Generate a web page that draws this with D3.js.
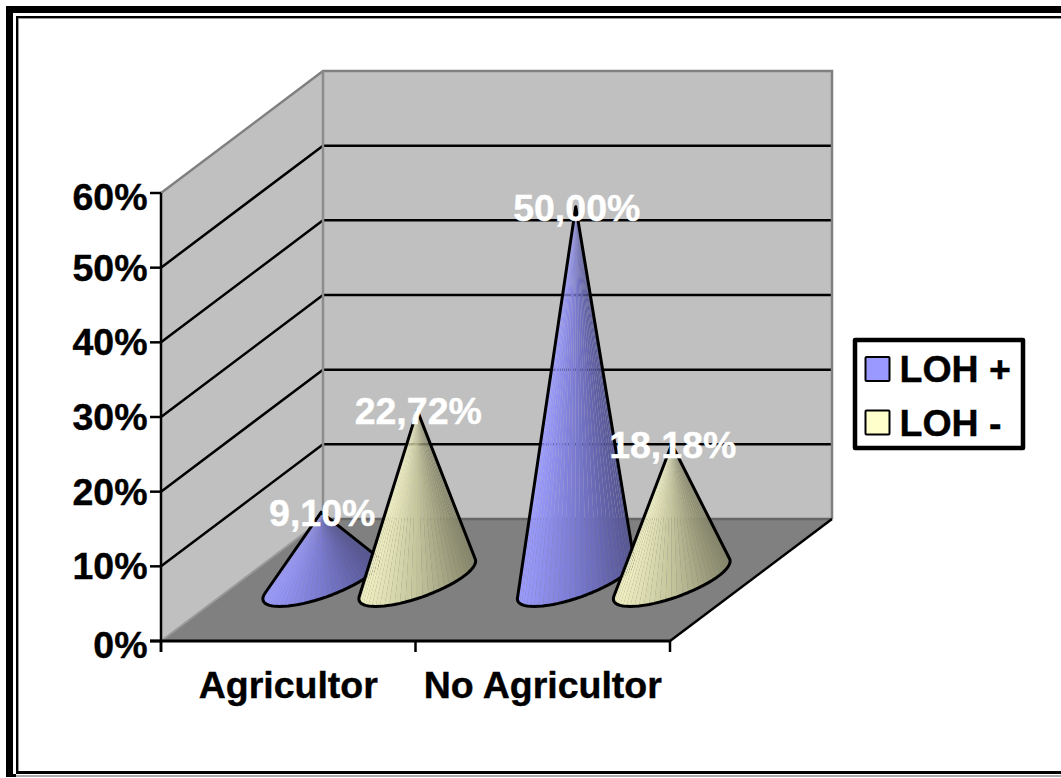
<!DOCTYPE html>
<html>
<head>
<meta charset="utf-8">
<script src="https://cdnjs.cloudflare.com/ajax/libs/d3/7.8.5/d3.min.js"></script>
<style>
  html, body { margin: 0; padding: 0; background: #fff; overflow: hidden; }
  svg { display: block; }
  text { font-family: "Liberation Sans", Arial, sans-serif; font-weight: bold; font-size: 37.5px;
         stroke: currentColor; stroke-width: 0.4px; }
</style>
</head>
<body>
<svg id="chart" width="1061" height="778"></svg>
<script>
// Survey groups and the two LOH series, in percent
const categories = ["Agricultor", "No Agricultor"];
const seriesNames = ["LOH +", "LOH -"];
const lohPositive = [9.10, 50.00];
const lohNegative = [22.72, 18.18];
const positiveLabels = ["9,10%", "50,00%"];
const negativeLabels = ["22,72%", "18,18%"];
const yTicks = [0, 10, 20, 30, 40, 50, 60];

const svg = d3.select("#chart");

// Oblique box: front plane plus a fixed offset towards the back wall
const depth = { x: 162, y: -122 };
const x = d3.scaleBand().domain(categories).range([161, 670]);
const y = d3.scaleLinear().domain([0, 60]).range([641, 193]);
const x0 = x.range()[0], x1 = x.range()[1], y0 = y(0), yTop = y(60);
const poly = pts => pts.map(p => p.join(",")).join(" ");

// Double page frame, open on the right-hand side
const frame = svg.append("g").attr("shape-rendering", "crispEdges");
[[6, 6, 1055, 7, "#000"], [6, 6, 7, 768, "#000"],
 [16, 16, 1045, 2, "#000"], [18, 18, 1043, 1, "#999"],
 [16, 16, 2, 758, "#000"], [18, 18, 1, 753, "#999"],
 [16, 771, 1045, 3, "#000"], [6, 774, 10, 3, "#000"], [16, 775, 1045, 2, "#aaa"]]
  .forEach(([fx, fy, w, h, c]) => frame.append("rect")
    .attr("x", fx).attr("y", fy).attr("width", w).attr("height", h).attr("fill", c));

// Walls and floor
svg.append("polygon").attr("fill", "#c0c0c0")
  .attr("points", poly([[x0, y0], [x0 + depth.x, y0 + depth.y], [x0 + depth.x, yTop + depth.y], [x0, yTop]]));
svg.append("polygon").attr("fill", "#c0c0c0")
  .attr("points", poly([[x0 + depth.x, y0 + depth.y], [x1 + depth.x, y0 + depth.y], [x1 + depth.x, yTop + depth.y], [x0 + depth.x, yTop + depth.y]]));
svg.append("polygon").attr("fill", "#808080")
  .attr("points", poly([[x0, y0], [x1, y0], [x1 + depth.x, y0 + depth.y], [x0 + depth.x, y0 + depth.y]]));

// Gridlines across the left and back walls
const grid = svg.append("g").attr("fill", "none").attr("stroke", "#000").attr("stroke-width", 2.5);
yTicks.filter(t => t > 0 && t < 60).forEach(t => {
  grid.append("polyline").attr("points", poly([
    [x0, y(t)], [x0 + depth.x, y(t) + depth.y], [x1 + depth.x, y(t) + depth.y]]));
});

// Grey edges of the box
const edges = svg.append("g").attr("fill", "none").attr("stroke", "#808080").attr("stroke-width", 2.5);
edges.append("polyline").attr("points", poly([
  [x0, yTop], [x0 + depth.x, yTop + depth.y], [x1 + depth.x, yTop + depth.y], [x1 + depth.x, y0 + depth.y]]));
edges.append("line").attr("x1", x0 + depth.x).attr("x2", x0 + depth.x)
  .attr("y1", yTop + depth.y).attr("y2", y0 + depth.y).attr("stroke", "#8c8c8c");
edges.append("line").attr("x1", x0 + depth.x).attr("x2", x1 + depth.x)
  .attr("y1", y0 + depth.y).attr("y2", y0 + depth.y).attr("stroke", "#666");
edges.append("line").attr("x1", x0).attr("x2", x0 + depth.x)
  .attr("y1", y0).attr("y2", y0 + depth.y).attr("stroke", "#9a9a9a").attr("stroke-width", 2);
svg.append("line").attr("x1", x1).attr("y1", y0)
  .attr("x2", x1 + depth.x).attr("y2", y0 + depth.y)
  .attr("stroke", "#000").attr("stroke-width", 2.5);

// Cones: each base is an oblique circle sitting mid-way across the floor
const baseU = { x: 41, y: 0 };
const baseV = { x: 41.6, y: -26.5 };
const coneOffset = 48;
const facets = 64;

const shadeBlue = d3.scaleLinear().domain([0, 0.5, 1]).range(["#9c9cff", "#7a7ad0", "#555592"]);
const shadeCream = d3.scaleLinear().domain([0, 0.5, 1]).range(["#f2f2c4", "#c4c49c", "#85856a"]);

function drawCone(value, cx, shade) {
  const cy = y(0) + depth.y / 2;
  const apex = [cx, cy - (y(0) - y(value))];
  const rim = d3.range(facets).map(i => {
    const t = i / facets * 2 * Math.PI;
    return [cx + baseU.x * Math.cos(t) + baseV.x * Math.sin(t),
            cy + baseU.y * Math.cos(t) + baseV.y * Math.sin(t)];
  });
  // A facet faces the viewer when its apex triangle winds the front way round
  const faces = rim.map((a, i) => {
    const b = rim[(i + 1) % facets];
    return (a[0] - apex[0]) * (b[1] - apex[1]) - (a[1] - apex[1]) * (b[0] - apex[0]) < 0;
  });
  // Walk the visible run of facets in rim order
  const start = faces.findIndex((f, i) => f && !faces[(i + facets - 1) % facets]);
  const arc = [rim[start]];
  for (let k = 0; faces[(start + k) % facets]; k++) arc.push(rim[(start + k + 1) % facets]);

  const g = svg.append("g");
  const xs = arc.map(p => p[0]);
  const minX = d3.min(xs), maxX = d3.max(xs);
  d3.pairs(arc).forEach(([a, b]) => {
    const mid = ((a[0] + b[0]) / 2 - minX) / (maxX - minX);
    g.append("polygon").attr("points", poly([apex, a, b])).attr("fill", shade(mid));
  });
  g.append("path")
    .attr("d", d3.line()([apex, ...arc]) + "Z")
    .attr("fill", "none").attr("stroke", "#000").attr("stroke-width", 3)
    .attr("stroke-linejoin", "round");
}

categories.forEach((c, i) => {
  const cx = x(c) + x.bandwidth() / 2 + depth.x / 2;
  drawCone(lohPositive[i], cx - coneOffset, shadeBlue);
  drawCone(lohNegative[i], cx + coneOffset, shadeCream);
});

// Axes
const axisG = svg.append("g").attr("stroke", "#000").attr("stroke-width", 2.5);
axisG.append("line").attr("x1", x0).attr("x2", x0).attr("y1", yTop).attr("y2", y0 + 11);
axisG.append("line").attr("x1", x0 - 11).attr("x2", x1).attr("y1", y0).attr("y2", y0).attr("stroke-width", 3);
yTicks.forEach(t => axisG.append("line")
  .attr("x1", x0 - 11).attr("x2", x0).attr("y1", y(t)).attr("y2", y(t)));
x.domain().concat("end").forEach(c => {
  const px = c === "end" ? x1 : x(c);
  axisG.append("line").attr("x1", px).attr("x2", px).attr("y1", y0).attr("y2", y0 + 11);
});

svg.append("g").selectAll("text").data(yTicks).join("text")
  .attr("x", x0 - 13.5)
  .attr("y", t => y(t) + (t === 60 ? 17 : t === 0 ? 17 : 13))
  .attr("text-anchor", "end")
  .text(t => t + "%");

svg.append("g").selectAll("text").data(categories).join("text")
  .attr("x", c => x(c) + x.bandwidth() / 2)
  .attr("y", 698)
  .attr("text-anchor", "middle")
  .text(c => c);

// Value labels sit centred above each cone tip
categories.forEach((c, i) => {
  const cx = x(c) + x.bandwidth() / 2 + depth.x / 2;
  const cy = y(0) + depth.y / 2;
  [[lohPositive[i], positiveLabels[i], -coneOffset], [lohNegative[i], negativeLabels[i], coneOffset]]
    .forEach(([v, label, dx]) => svg.append("text")
      .attr("x", cx + dx + 1)
      .attr("y", cy - (y(0) - y(v)) + 14)
      .attr("text-anchor", "middle")
      .attr("fill", "#fff")
      .style("color", "#fff")
      .text(label));
});

// Legend
const legend = svg.append("g");
legend.append("rect").attr("x", 855).attr("y", 340).attr("width", 168).attr("height", 108)
  .attr("fill", "#fff").attr("stroke", "#000").attr("stroke-width", 4.5).attr("stroke-linejoin", "round");
const legendColors = ["#9999ff", "#ffffcc"];
seriesNames.forEach((name, i) => {
  const top = 357 + i * 53.5;
  legend.append("rect").attr("x", 865.5).attr("y", top).attr("width", 24).attr("height", 24)
    .attr("rx", 1).attr("fill", legendColors[i]).attr("stroke", "#000").attr("stroke-width", 2);
  legend.append("text").attr("x", 899.5).attr("y", top + 25).text(name);
});
</script>
</body>
</html>
